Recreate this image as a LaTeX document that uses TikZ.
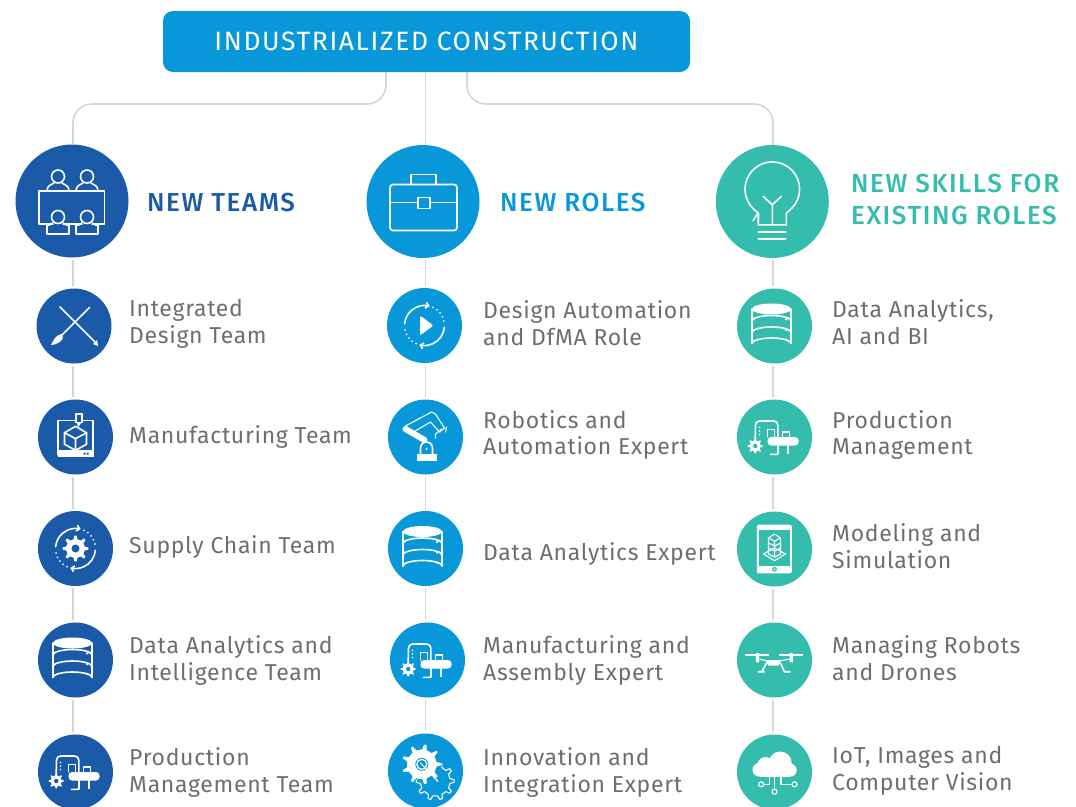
\documentclass[tikz,border=0pt]{standalone}
\usepackage{fontspec}
\setmainfont{Fira Sans}
\newfontfamily\labelfont[LetterSpace=3]{Fira Sans}
\newfontfamily\headfont[LetterSpace=6,BoldFont={Fira Sans Medium}]{Fira Sans}
\newfontfamily\topfont[LetterSpace=6]{Fira Sans}
\usetikzlibrary{arrows.meta}
\definecolor{teamblue}{HTML}{1A5AA9}
\definecolor{roleblue}{HTML}{0897D8}
\definecolor{skillgreen}{HTML}{34BCAC}
\definecolor{labelgrey}{HTML}{6D6E71}
\definecolor{linegrey}{HTML}{D6D6D6}
\tikzset{
  bigdisc/.style={circle,minimum size=113pt,inner sep=0pt},
  smalldisc/.style={circle,minimum size=75pt,inner sep=0pt},
  link/.style={draw=linegrey,line width=1.6pt},
  gaplink/.style={link,shorten <=2pt,shorten >=2pt},
  itemtext/.style={anchor=west,inner sep=0pt,text=labelgrey,align=left,font=\labelfont\fontsize{23}{26.8}\selectfont},
  headtext/.style={anchor=west,inner sep=0pt,align=left,font=\headfont\bfseries\fontsize{26}{32}\selectfont},
  icon/.style={draw=white,line width=1.6pt,line join=round,line cap=round},
  iconthin/.style={draw=white,line width=1.1pt,line join=round,line cap=round},
}
\newcommand\gearshape[5]{% options, centre, teeth, outer, inner
  \path[#1] (#2) ++({360/#3-90/#3}:#5)
    \foreach \i in {1,...,#3} { -- ++(0,0) };
  \begin{scope}[shift={(#2)}]
  \path[#1] ({360/#3-90/#3}:#5)
    \foreach \i in {1,...,#3} {
      -- ({360/#3*\i-90/#3}:#5) -- ({360/#3*\i-42/#3}:#4)
      -- ({360/#3*\i+42/#3}:#4) -- ({360/#3*\i+90/#3}:#5) } -- cycle;
  \end{scope}}
\newcommand\putIcon[3]{\begin{scope}[shift={(#1)}]\colorlet{iconbg}{#2}#3\end{scope}}
\newcommand\iconCycle{%
  \draw[icon,-{Straight Barb[length=3pt,width=6pt]}] (185:20) arc[start angle=185,end angle=285,radius=20];
  \draw[icon,-{Straight Barb[length=3pt,width=6pt]}] (5:20) arc[start angle=5,end angle=105,radius=20];
  \foreach \a in {295,308,321,334,347} {\fill[white] (\a:20) circle (1pt);}
  \foreach \a in {115,128,141,154,167} {\fill[white] (\a:20) circle (1pt);}}
\newcommand\iconTeams{%
  \draw[icon,line width=1.8pt] (-33,-10.3) rectangle (32.5,23);
  \foreach \x in {-14,15}{
    \draw[icon] (\x,-24.5) circle (6.5);
    \draw[icon] (\x-11,-10.3) .. controls (\x-11,-15) and (\x-7,-16.5) .. (\x-4,-18);
    \draw[icon] (\x+11,-10.3) .. controls (\x+11,-15) and (\x+7,-16.5) .. (\x+4,-18);
    \fill[iconbg] (\x,17) circle (8);
    \draw[icon] (\x,16) circle (6.5);
    \draw[icon] (\x-11,24) -- (\x-11,33) -- (\x+11,33) -- (\x+11,24) .. controls (\x+11,25) and (\x+7,24) .. (\x+5,22);
    \draw[icon] (\x-11,24) .. controls (\x-11,25) and (\x-7,24) .. (\x-5,22);
  }}
\newcommand\iconBrief{%
  \draw[icon,rounded corners=3pt] (-33,-17) rectangle (34,29);
  \draw[icon] (-12,-17) -- (-12,-27) -- (13,-27) -- (13,-17);
  \draw[icon] (-5,-4) rectangle (7,7);
  \draw[icon] (-33,1) -- (-5,1) (7,1) -- (34,1);}
\newcommand\iconBulb{%
  \draw[icon] (-14,23.3) -- (-14,11) -- (135:27.3) ++(0,-12.3) ;
  \begin{scope}[shift={(0,-12.3)}]
    \draw[icon] (-14,35.6) -- (-14,24) -- (135:27.3) arc[start angle=135,end angle=405,radius=27.3] -- (14,24) -- (14,35.6) -- cycle;
  \end{scope}
  \draw[icon] (0,23.3) -- (0,3.3) (-9,-5) -- (0,3.3) -- (9,-5);
  \draw[icon] (-14,30.7) -- (13.5,30.7) (-14,37.3) -- (13.5,37.3);}
\newcommand\iconBrush{%
  \draw[icon] (-14,-19) -- (21,16);
  \fill[white] (19,18) -- (23,14) -- (24,20) -- cycle;
  \draw[icon] (15.5,-18.5) -- (-14,11);
  \fill[white] (-13,8) .. controls (-9,11) and (-12,15) .. (-16,17) .. controls (-19,18.5) and (-21,19) .. (-23,19) .. controls (-21,15) and (-19,10) .. (-13,8) -- cycle;}
\newcommand\iconPrinter{%
  \draw[icon,line cap=butt] (-17.3,-16.7) rectangle (17.7,18);
  \fill[white] (-18,13.3) rectangle (18.4,20);
  \fill[iconbg] (8,15.5) rectangle (10,17.5) (11,15.5) rectangle (13,17.5);
  \fill[white] (-1,-24.5) rectangle (7.5,-14);
  \fill[iconbg] (1,-22.5) rectangle (5.5,-15);
  \fill[white] (1,-14) -- (5.5,-14) -- (3.2,-10) -- cycle;
  \draw[icon] (0,-10.7) -- (11,-4.3) -- (11,7.3) -- (0,13.3) -- (-11,7.3) -- (-11,-4.3) -- cycle;
  \draw[icon] (-11,-4.3) -- (0,1.7) -- (11,-4.3) (0,1.7) -- (0,13.3);}
\newcommand\iconGearCycle{%
  \iconCycle
  \gearshape{fill=white}{0,0}{8}{13}{9.5}
  \fill[iconbg] (0,0) circle (4);}
\newcommand\iconPlay{%
  \iconCycle
  \fill[white,rounded corners=2pt] (-4.5,-10) -- (9,0) -- (-4.5,10) -- cycle;}
\newcommand\iconDB{%
  \begin{scope}[shift={(-3,0)}]
  \fill[white] (0,-17) ellipse (19.5 and 5.5);
  \draw[icon] (-19.5,-17) -- (-19.5,17.5) (19.5,-17) -- (19.5,17.5);
  \draw[icon] (-19.5,-5) arc[start angle=180,end angle=0,radius=19.5,y radius=-5.5];
  \draw[icon] (-19.5,6.5) arc[start angle=180,end angle=0,radius=19.5,y radius=-5.5];
  \draw[icon] (-19.5,17.5) arc[start angle=180,end angle=0,radius=19.5,y radius=-5.5];
  \fill[white] (14.7,-6.7) circle (1.4) (14.7,4) circle (1.4) (14.7,14) circle (1.4);
  \end{scope}}
\newcommand\iconProd{%
  \draw[icon] (-4,17.3) -- (3.3,17.3) -- (3.3,-12) arc[start angle=0,end angle=-90,radius=4] -- (-15,-16) arc[start angle=-90,end angle=-180,radius=4] -- (-19.3,2);
  \fill[white] (-15,-9.5) circle (0.9) (-15,-6) circle (0.9) (-15,-2.5) circle (0.9);
  \gearshape{fill=white}{-19.3,9}{8}{7.5}{5.5}
  \fill[iconbg] (-19.3,9) circle (2.2);
  \fill[white,rounded corners=3.5pt] (-7,0) rectangle (24,8.5);
  \draw[iconthin] (-7,0) -- (-7,-7.5) -- (0,-7.5) -- (0,0) (8,0) -- (8,-5) -- (15,-5) -- (15,0);
  \draw[icon,line cap=butt] (13.5,8) -- (13.5,17.3) (3.3,8) -- (3.3,17.3);}
\newcommand\iconRobot{%
  \fill[white] (-9,17) rectangle (11,24);
  \draw[icon] (-5,17) -- (-5,11) arc[start angle=180,end angle=360,radius=6] -- (7,17);
  \fill[white] (1,12) circle (1.2);
  \draw[white,line width=6pt,line cap=round] (-1,3) -- (-20,-8);
  \draw[iconthin] (-20,-11) -- (6,-25) -- (10,-23) -- (19,-9) (-12,-5) -- (5,-15) -- (14,-5);
  \draw[iconthin] (19,-9) -- (14,-5) (10,-3) -- (16,-8) (21,-10) -- (20,-5) (10,-3) -- (10,1);}
\newcommand\iconGears{%
  \gearshape{draw=white,line width=1.1pt,fill=iconbg,line join=round}{9.7,10}{10}{19}{15}
  \gearshape{fill=white,draw=iconbg,line width=1pt}{-3.7,-6.7}{9}{20.5}{15.5}
  \fill[iconbg] (-3.7,-6.7) circle (6.5);
  \draw[white,line width=1.3pt] (-3.7,-6.7) circle (5);
  \draw[iconthin,-{Stealth[length=3pt]}] (-5,-8) -- (13,11);}
\newcommand\iconTablet{%
  \fill[white,rounded corners=2pt] (-17.7,-24.3) rectangle (17.3,24.3);
  \fill[iconbg] (-15.3,-19.3) rectangle (15,16.7);
  \fill[iconbg] (0,20.3) circle (2.4);
  \fill[white] (0,20.3) circle (1.0);
  \draw[iconthin] (-11,5) -- (0,-1) (11,5) -- (0,-1) (-11,5) -- (0,11.7) -- (11,5);
  \draw[iconthin] (-6,-11) -- (0,-15) -- (6,-11) -- (6,5) -- (0,8) -- (-6,5) -- cycle;
  \draw[iconthin] (-6,-11) -- (0,-8) -- (6,-11) (0,-8) -- (0,8) (-6,-6) -- (0,-3) -- (6,-6) (-6,-1) -- (0,2) -- (6,-1);}
\newcommand\iconDrone{%
  \draw[icon,line cap=butt] (-29.3,-5) -- (-5.3,-5) (4.7,-5) -- (28.3,-5);
  \fill[white] (-18.7,-7) rectangle (-15.3,2.3) (15,-7) rectangle (18.3,2.3);
  \fill[white] (-9.3,0) -- (7.3,0) -- (4,5.7) -- (-6,5.7) -- cycle;
  \draw[iconthin] (-15.3,-1) -- (-9.3,0.5) (15,-1) -- (7.3,0.5);
  \draw[icon,line cap=butt] (-8,3) -- (-12.7,11.7) (-16.7,11.7) -- (-10,11.7);
  \draw[icon,line cap=butt] (6,3) -- (10,11.7) (9,11.7) -- (16,11.7);}
\newcommand\iconCloud{%
  \fill[white] (-15,-2.3) circle (7) (-9,-7) circle (8) (5.7,-9) circle (11.5) (15.7,-1.8) circle (6.5);
  \fill[white] (-15,-3) rectangle (15.7,4.7);
  \draw[iconthin] (0,4.7) -- (0,17.2) (-5,4.7) -- (-5,12.3) -- (-10.8,12.3) (6.5,4.7) -- (6.5,12.3) -- (17.5,12.3);
  \draw[iconthin] (0,19.7) circle (2.5) (-13.3,12.3) circle (2.5) (20,12.3) circle (2.5);}
\begin{document}
\begin{tikzpicture}[x=1pt,y=-1pt]
\useasboundingbox (0,0) rectangle (1076,806);
\clip (0,0) rectangle (1076,806);
% connector guide coordinates
\coordinate (col1) at (73,0);
\coordinate (col2) at (425.5,0);
\coordinate (col3) at (773,0);
\coordinate (forkL) at (386,0);
\coordinate (forkR) at (467,0);
\coordinate (barY) at (0,104);
% discs
\node[fill=roleblue,rounded corners=10pt,minimum width=527pt,minimum height=61pt,inner sep=0pt,text=white,font=\topfont\fontsize{26.5}{30}\selectfont] (top) at (426.5,41.5) {INDUSTRIALIZED CONSTRUCTION};
\node[bigdisc,fill=teamblue] (b1) at (72,201) {};
\node[bigdisc,fill=roleblue] (b2) at (423,201.5) {};
\node[bigdisc,fill=skillgreen] (b3) at (772.3,201.5) {};
\node[smalldisc,fill=teamblue] (a1) at (74,326) {};
\node[smalldisc,fill=teamblue] (a2) at (75.5,437) {};
\node[smalldisc,fill=teamblue] (a3) at (75.5,548.5) {};
\node[smalldisc,fill=teamblue] (a4) at (75.5,660) {};
\node[smalldisc,fill=teamblue] (a5) at (75.5,772) {};
\node[smalldisc,fill=roleblue] (r1) at (424.5,325.5) {};
\node[smalldisc,fill=roleblue] (r2) at (425.5,437) {};
\node[smalldisc,fill=roleblue] (r3) at (425.5,548.5) {};
\node[smalldisc,fill=roleblue] (r4) at (427.5,660) {};
\node[smalldisc,fill=roleblue] (r5) at (425.5,771) {};
\node[smalldisc,fill=skillgreen] (s1) at (774.5,326) {};
\node[smalldisc,fill=skillgreen] (s2) at (774.5,437) {};
\node[smalldisc,fill=skillgreen] (s3) at (774.5,549) {};
\node[smalldisc,fill=skillgreen] (s4) at (774.5,660) {};
\node[smalldisc,fill=skillgreen] (s5) at (774.5,772) {};
% connectors
\draw[link,rounded corners=19pt] (forkL |- top.south) -- (forkL |- barY) -- (col1 |- barY) -- (col1 |- b1.north);
\draw[link] (col2 |- top.south) -- (col2 |- b2.north);
\draw[link,rounded corners=19pt] (forkR |- top.south) -- (forkR |- barY) -- (col3 |- barY) -- (col3 |- b3.north);
\draw[gaplink] (col1 |- b1.south) -- (col1 |- a1.north);
\draw[gaplink] (col1 |- a1.south) -- (col1 |- a2.north);
\draw[gaplink] (col1 |- a2.south) -- (col1 |- a3.north);
\draw[gaplink] (col1 |- a3.south) -- (col1 |- a4.north);
\draw[gaplink] (col1 |- a4.south) -- (col1 |- a5.north);
\draw[gaplink] (col2 |- b2.south) -- (col2 |- r1.north);
\draw[gaplink] (col2 |- r1.south) -- (col2 |- r2.north);
\draw[gaplink] (col2 |- r2.south) -- (col2 |- r3.north);
\draw[gaplink] (col2 |- r3.south) -- (col2 |- r4.north);
\draw[gaplink] (col2 |- r4.south) -- (col2 |- r5.north);
\draw[gaplink] (col3 |- b3.south) -- (col3 |- s1.north);
\draw[gaplink] (col3 |- s1.south) -- (col3 |- s2.north);
\draw[gaplink] (col3 |- s2.south) -- (col3 |- s3.north);
\draw[gaplink] (col3 |- s3.south) -- (col3 |- s4.north);
\draw[gaplink] (col3 |- s4.south) -- (col3 |- s5.north);
% icons
\putIcon{b1}{teamblue}{\iconTeams}
\putIcon{b2}{roleblue}{\iconBrief}
\putIcon{b3}{skillgreen}{\iconBulb}
\putIcon{a1}{teamblue}{\iconBrush}
\putIcon{a2}{teamblue}{\iconPrinter}
\putIcon{a3}{teamblue}{\iconGearCycle}
\putIcon{a4}{teamblue}{\iconDB}
\putIcon{a5}{teamblue}{\iconProd}
\putIcon{r1}{roleblue}{\iconPlay}
\putIcon{r2}{roleblue}{\iconRobot}
\putIcon{r3}{roleblue}{\iconDB}
\putIcon{r4}{roleblue}{\iconProd}
\putIcon{r5}{roleblue}{\iconGears}
\putIcon{s1}{skillgreen}{\iconDB}
\putIcon{s2}{skillgreen}{\iconProd}
\putIcon{s3}{skillgreen}{\iconTablet}
\putIcon{s4}{skillgreen}{\iconDrone}
\putIcon{s5}{skillgreen}{\iconCloud}
% headings
\node[headtext,text=teamblue] (h1) at (147,203) {NEW TEAMS};
\node[headtext,text=roleblue] (h2) at (500,203) {NEW ROLES};
\node[headtext,text=skillgreen] (h3) at (851,200) {NEW SKILLS FOR\\EXISTING ROLES};
% labels
\node[itemtext] (ta1) at (129,323.5) {Integrated\\Design Team};
\node[itemtext] (ta2) at (129,437) {Manufacturing Team};
\node[itemtext] (ta3) at (129,546.5) {Supply Chain Team};
\node[itemtext] (ta4) at (129,660.5) {Data Analytics and\\Intelligence Team};
\node[itemtext] (ta5) at (129,772.5) {Production\\Management Team};
\node[itemtext] (tr1) at (483,323.5) {Design Automation\\and DfMA Role};
\node[itemtext] (tr2) at (483,435) {Robotics and\\Automation Expert};
\node[itemtext] (tr3) at (483,554) {Data Analytics Expert};
\node[itemtext] (tr4) at (483,660.5) {Manufacturing and\\Assembly Expert};
\node[itemtext] (tr5) at (483,772.5) {Innovation and\\Integration Expert};
\node[itemtext] (ts1) at (832,322.5) {Data Analytics,\\AI and BI};
\node[itemtext] (ts2) at (832,435) {Production\\Management};
\node[itemtext] (ts3) at (832,546.5) {Modeling and\\Simulation};
\node[itemtext] (ts4) at (832,658) {Managing Robots\\and Drones};
\node[itemtext] (ts5) at (832,770.5) {IoT, Images and\\Computer Vision};
\end{tikzpicture}
\end{document}
